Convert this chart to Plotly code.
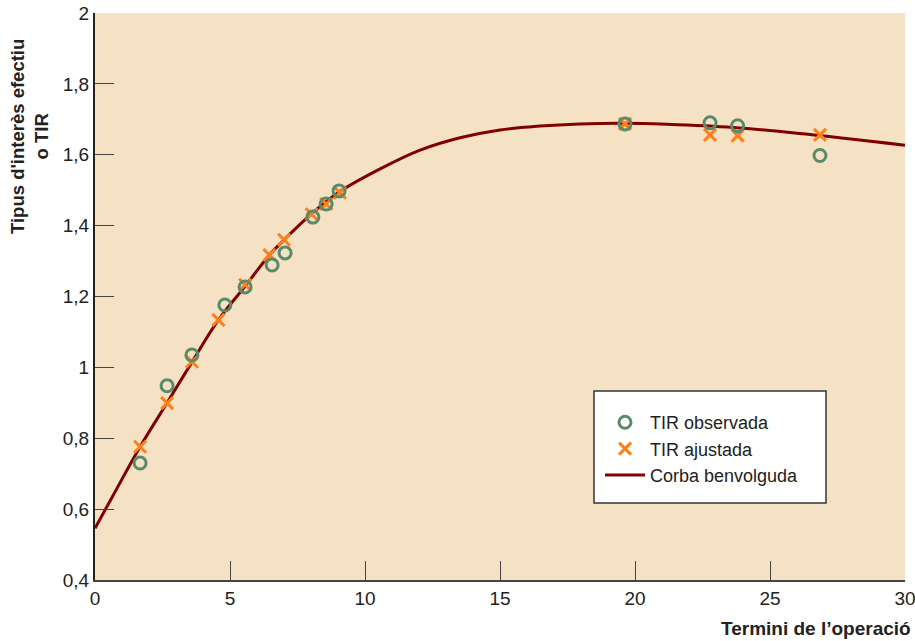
import plotly.graph_objects as go

# Observed IRR (circles)
obs_x = [1.67, 2.67, 3.59, 4.81, 5.56, 6.56, 7.04, 8.07, 8.56, 9.04, 19.63, 22.78, 23.8, 26.85]
obs_y = [0.730, 0.948, 1.035, 1.176, 1.227, 1.289, 1.323, 1.424, 1.461, 1.498, 1.687, 1.690, 1.682, 1.598]

# Adjusted IRR (crosses)
adj_x = [1.67, 2.67, 3.59, 4.57, 5.56, 6.46, 7.0, 8.02, 8.56, 9.07, 19.63, 22.78, 23.8, 26.85]
adj_y = [0.776, 0.899, 1.016, 1.134, 1.233, 1.317, 1.360, 1.432, 1.461, 1.493, 1.687, 1.656, 1.654, 1.656]

# Smooth curve
curve_x = [0, 0.68, 1.67, 2.67, 3.6, 4.57, 5.6, 6.46, 7.0, 8.0, 9.07, 10.56, 12.04, 13.52, 15.0, 16.48, 17.94, 19.57, 21.17, 23.64, 26.1, 30]
curve_y = [0.546, 0.640, 0.776, 0.900, 1.016, 1.134, 1.233, 1.317, 1.360, 1.432, 1.496, 1.560, 1.613, 1.648, 1.670, 1.681, 1.687, 1.689, 1.686, 1.677, 1.660, 1.627]

y_ticks = [0.4, 0.6, 0.8, 1.0, 1.2, 1.4, 1.6, 1.8, 2.0]
y_tick_text = ["0,4", "0,6", "0,8", "1", "1,2", "1,4", "1,6", "1,8", "2"]
x_ticks = [0, 5, 10, 15, 20, 25, 30]
x_tick_text = ["0", "5", "10", "15", "20", "25", "30"]

FONT = "Liberation Sans, Arial, sans-serif"

fig = go.Figure()
fig.add_trace(go.Scatter(
    x=curve_x, y=curve_y, mode="lines", name="Corba benvolguda",
    line=dict(color="#800000", width=3, shape="spline", smoothing=1.0),
    legendrank=3))
fig.add_trace(go.Scatter(
    x=adj_x, y=adj_y, mode="markers", name="TIR ajustada",
    marker=dict(symbol="x-thin-open", size=12, line=dict(color="#FF7F1A", width=3), color="#FF7F1A"),
    legendrank=2))
fig.add_trace(go.Scatter(
    x=obs_x, y=obs_y, mode="markers", name="TIR observada",
    marker=dict(symbol="circle-open", size=12, line=dict(color="#5B8A6B", width=3), color="#5B8A6B"),
    legendrank=1))

L, R, T, B = 95, 10, 13, 61
W, H = 915, 641
pw, ph = W - L - R, H - T - B

def px_x(p):
    return (p - L) / pw

def px_y(p):
    return (H - B - p) / ph

fig.update_layout(
    width=W, height=H, autosize=False,
    margin=dict(l=L, r=R, t=T, b=B, pad=0, autoexpand=False),
    paper_bgcolor="white", plot_bgcolor="#F5E2C4",
    font=dict(family=FONT, size=19, color="#222222"),
    showlegend=True,
    legend=dict(
        x=px_x(600), y=px_y(404), xanchor="left", yanchor="top",
        bgcolor="rgba(0,0,0,0)", borderwidth=0,
        font=dict(family=FONT, size=18, color="#222222"),
        traceorder="normal", itemwidth=40,
    ),
    shapes=[dict(
        type="rect", xref="paper", yref="paper",
        x0=px_x(594), x1=px_x(826), y0=px_y(503), y1=px_y(391),
        fillcolor="white", line=dict(color="#333333", width=1.5), layer="below",
    )],
    annotations=[
        dict(text="<b>Tipus d'interès efectiu<br>o TIR</b>", xref="paper", yref="paper",
             x=px_x(29), y=px_y(137), xanchor="center", yanchor="middle",
             textangle=-90, showarrow=False, font=dict(family=FONT, size=18.5, color="#222222")),
        dict(text="<b>Termini de l’operació</b>", xref="paper", yref="paper",
             x=px_x(913), y=px_y(628), xanchor="right", yanchor="middle",
             showarrow=False, font=dict(family=FONT, size=19, color="#222222")),
    ],
)

fig.update_xaxes(
    range=[0, 30], tickvals=x_ticks, ticktext=x_tick_text,
    ticks="inside", ticklen=19, tickwidth=1.3, tickcolor="#444444",
    showline=True, linecolor="#444444", linewidth=2,
    showgrid=False, zeroline=False, fixedrange=True,
    automargin=False, ticklabeloverflow="allow",
)
fig.update_yaxes(
    range=[0.4, 2.0], tickvals=y_ticks, ticktext=y_tick_text,
    ticks="inside", ticklen=19, tickwidth=1.3, tickcolor="#444444",
    showline=True, linecolor="#222222", linewidth=2,
    showgrid=False, zeroline=False, fixedrange=True,
    automargin=False, ticklabeloverflow="allow",
)

post = ("document.documentElement.style.margin='0';document.body.style.margin='0';"
        "document.body.style.padding='0';document.body.style.overflow='hidden';"
        "var d=document.getElementById('{plot_id}');d.style.position='fixed';"
        "d.style.left='0px';d.style.top='0px';")

fig.write_html("out.html", post_script=post, config={"displayModeBar": False})
